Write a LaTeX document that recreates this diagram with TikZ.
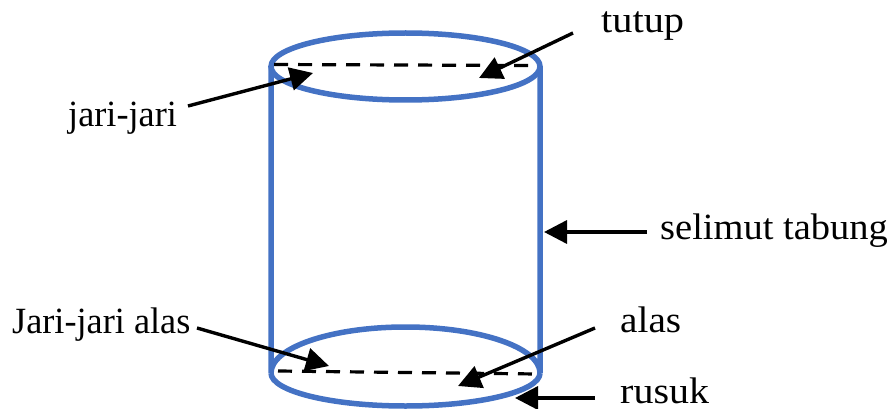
\documentclass[tikz,border=0pt]{standalone}
\usepackage{fontspec}
\setmainfont{Liberation Serif}
\usetikzlibrary{arrows.meta}
\definecolor{cylblue}{HTML}{4472C4}
\tikzset{
  rim/.style={draw=cylblue,line width=5.5pt},
  radius line/.style={draw=black,line width=3.2pt,dash pattern=on 14pt off 10pt},
  pointer/.style={draw=black,line width=3.4pt,-{Triangle[length=23pt,width=23pt]}},
  lbl/.style={anchor=base west,inner sep=0pt,font=\fontsize{37}{42}\selectfont,transform shape}
}
\begin{document}
\begin{tikzpicture}[x=1pt,y=-1pt]
\useasboundingbox (0,0) rectangle (891,409);
% cylinder
\draw[rim] (405.5,66.5) ellipse [x radius=134.5,y radius=33.5];
\draw[rim] (271,66.5) -- (271,373) arc [start angle=180,end angle=360,x radius=134.5,y radius=46] -- (540,66.5);
\draw[rim] (271,373) arc [start angle=180,end angle=0,x radius=134.5,y radius=33];
% radii
\coordinate (topL) at (274,64.5);
\coordinate (topR) at (530,65.5);
\coordinate (botL) at (278,371);
\coordinate (botR) at (537,374);
\draw[radius line] (topL) -- (topR);
\draw[radius line] (botL) -- (botR);
% labels
\node[lbl,xscale=1.09] (tutup) at (601,33) {tutup};
\node[lbl,xscale=.98] (jari) at (68,127) {jari-jari};
\node[lbl,xscale=1.04] (selimut) at (660,239.5) {selimut tabung};
\node[lbl,xscale=.98] (jarialas) at (12,333) {Jari-jari alas};
\node[lbl,xscale=1.06] (alas) at (620,332) {alas};
\node[lbl,xscale=1.08] (rusuk) at (620,403) {rusuk};
% pointer ends
\coordinate (s1) at (573,33);   \coordinate (t1) at (479,78);
\coordinate (s2) at (188,106);  \coordinate (t2) at (313,73);
\coordinate (s3) at (647,232);  \coordinate (t3) at (544,232);
\coordinate (s4) at (197,328);  \coordinate (t4) at (329,366);
\coordinate (s5) at (595,328);  \coordinate (t5) at (458,386);
\coordinate (s6) at (595,398);  \coordinate (t6) at (515,398);
\draw[pointer] (s1) -- (t1);
\draw[pointer] (s2) -- (t2);
\draw[pointer] (s3) -- (t3);
\draw[pointer] (s4) -- (t4);
\draw[pointer] (s5) -- (t5);
\draw[pointer] (s6) -- (t6);
\end{tikzpicture}
\end{document}
